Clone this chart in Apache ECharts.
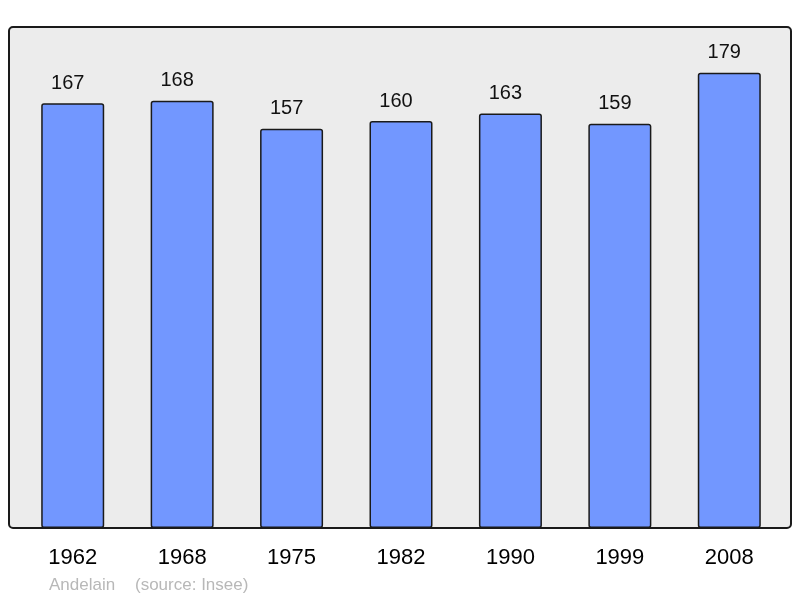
<!DOCTYPE html>
<html lang="fr">
<head>
    <meta charset="UTF-8">
    <title>Andelain</title>
    <script type="text/javascript" src="https://cdn.jsdelivr.net/npm/echarts@6/dist/echarts.min.js"></script>
    <style>
        html, body { margin: 0; padding: 0; background: #fff; }
    </style>
</head>
<body>
    <div id="main" style="width:800px;height:598px;"></div>
    <script type="text/javascript">
        // données
        const years = ['1962', '1968', '1975', '1982', '1990', '1999', '2008'];
        const population = [167, 168, 157, 160, 163, 159, 179];
        const commune = 'Andelain';
        const source = '(source: Insee)';

        let myChart = echarts.init(document.getElementById('main'), null, { renderer: 'canvas' });

        let option = {
            animation: false,
            textStyle: { fontFamily: 'Liberation Sans, Arial, sans-serif' },
            grid: { left: 18, width: 766, top: 27, bottom: 70 },
            graphic: [
                {
                    type: 'rect', z: -10, silent: true,
                    shape: { x: 9, y: 27, width: 782, height: 501, r: 4 },
                    style: { fill: '#ececec', stroke: '#1a1a1a', lineWidth: 2 }
                },
                {
                    type: 'text', left: 49, top: 577, silent: true,
                    style: { text: commune, fill: '#b8b8b8', font: '17px Liberation Sans, Arial, sans-serif' }
                },
                {
                    type: 'text', left: 135, top: 577, silent: true,
                    style: { text: source, fill: '#b8b8b8', font: '17px Liberation Sans, Arial, sans-serif' }
                }
            ],
            xAxis: {
                type: 'category',
                data: years,
                axisLine: { show: false },
                axisTick: { show: false },
                axisLabel: { color: '#000', fontSize: 22, margin: 19 }
            },
            yAxis: {
                type: 'value',
                min: 0,
                max: 197,
                show: false,
                splitLine: { show: false }
            },
            series: [{
                type: 'bar',
                data: population,
                barWidth: 63,
                itemStyle: { color: '#7297ff', borderColor: '#1a1a1a', borderWidth: 1.5, borderRadius: 2 },
                // les étiquettes sont un peu décalées vers la gauche dans l'original
                label: { show: true, position: 'top', distance: 10, offset: [-5, 0], color: '#111', fontSize: 20 }
            }]
        };

        myChart.setOption(option);
    </script>
</body>
</html>
